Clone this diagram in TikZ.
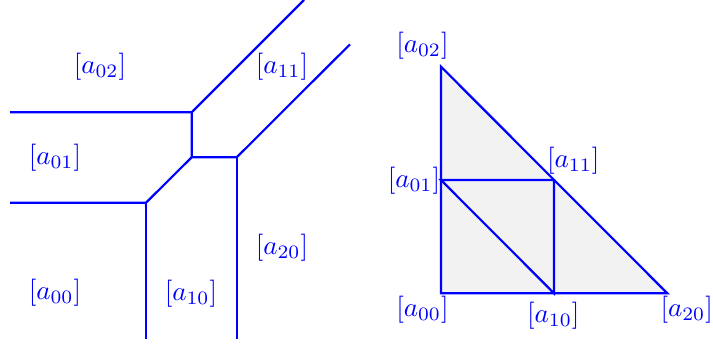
\documentclass[tikz,border=0pt]{standalone}
\begin{document}
\begin{tikzpicture}[x=0.3686pt,y=-0.3686pt,
  curve/.style={draw=blue,line width=0.8pt},
  lab/.style={text=blue,inner sep=0pt}]
\useasboundingbox (0,0) rectangle (713,347);
% ---- left: tropical curve ----
\coordinate (L1) at (10,112.3);
\coordinate (P) at (191.7,112.3);
\coordinate (Ptop) at (304,0);
\coordinate (Q) at (191.7,157.3);
\coordinate (R) at (236.7,157.3);
\coordinate (Rtop) at (350,44.3);
\coordinate (Rbot) at (236.7,339);
\coordinate (S) at (146,202.7);
\coordinate (L2) at (10,202.7);
\coordinate (Sbot) at (146,339);
\draw[curve] (L1) -- (P) -- (Ptop);
\draw[curve] (P) -- (Q) -- (R) -- (Rtop);
\draw[curve] (R) -- (Rbot);
\draw[curve] (Q) -- (S) -- (L2);
\draw[curve] (S) -- (Sbot);
\node[lab] (la02) at (100,66.5) {$[a_{02}]$};
\node[lab] (la11) at (282,66.5) {$[a_{11}]$};
\node[lab] (la01) at (55,158) {$[a_{01}]$};
\node[lab] (la00) at (55,293) {$[a_{00}]$};
\node[lab] (la10) at (191,293.5) {$[a_{10}]$};
\node[lab] (la20) at (282,248) {$[a_{20}]$};
% ---- right: subdivided triangle ----
\coordinate (v00) at (441,293.3);
\coordinate (v10) at (554,293.3);
\coordinate (v20) at (667.3,293.3);
\coordinate (v01) at (441,180);
\coordinate (v11) at (554,180);
\coordinate (v02) at (441,66.7);
\fill[black!5] (v00) -- (v20) -- (v02) -- cycle;
\draw[curve,line join=miter] (v00) -- (v20) -- (v02) -- cycle;
\draw[curve] (v01) -- (v11) -- (v10) -- cycle;
\node[lab] (ra02) at (422.5,46) {$[a_{02}]$};
\node[lab] (ra01) at (414,180.4) {$[a_{01}]$};
\node[lab] (ra11) at (573.3,161) {$[a_{11}]$};
\node[lab] (ra00) at (422.5,309.5) {$[a_{00}]$};
\node[lab] (ra10) at (553.3,316) {$[a_{10}]$};
\node[lab] (ra20) at (686.7,309.5) {$[a_{20}]$};
\end{tikzpicture}
\end{document}
